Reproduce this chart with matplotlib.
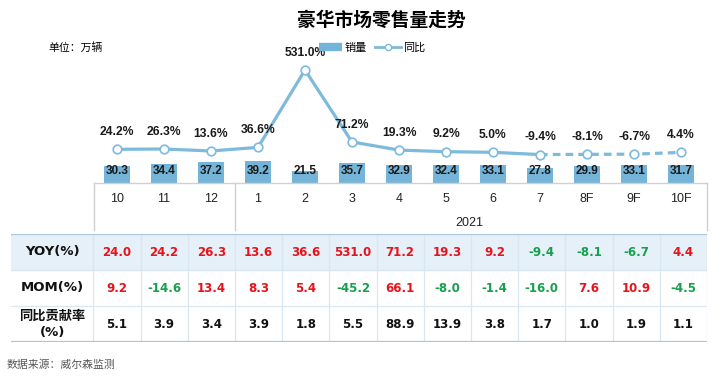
import matplotlib
matplotlib.use('Agg')
import matplotlib.pyplot as plt
from matplotlib.lines import Line2D
from matplotlib.transforms import blended_transform_factory

plt.rcParams['font.family'] = ['Liberation Sans', 'Noto Sans CJK SC', 'DejaVu Sans']

# 数据
months = ['10', '11', '12', '1', '2', '3', '4', '5', '6', '7', '8F', '9F', '10F']
sales = [30.3, 34.4, 37.2, 39.2, 21.5, 35.7, 32.9, 32.4, 33.1, 27.8, 29.9, 33.1, 31.7]
yoy_line = [24.2, 26.3, 13.6, 36.6, 531.0, 71.2, 19.3, 9.2, 5.0, -9.4, -8.1, -6.7, 4.4]
row_names = ['YOY(%)', 'MOM(%)', '同比贡献率\n(%)']
yoy_row = [24.0, 24.2, 26.3, 13.6, 36.6, 531.0, 71.2, 19.3, 9.2, -9.4, -8.1, -6.7, 4.4]
mom_row = [9.2, -14.6, 13.4, 8.3, 5.4, -45.2, 66.1, -8.0, -1.4, -16.0, 7.6, 10.9, -4.5]
contrib_row = [5.1, 3.9, 3.4, 3.9, 1.8, 5.5, 88.9, 13.9, 3.8, 1.7, 1.0, 1.9, 1.1]
n_actual = 10  # 7月之后为预测

W, H = 723, 379
bar_c = '#74B4D8'
line_c = '#7DBADB'
red = '#E8121B'
green = '#16A04C'

fig = plt.figure(figsize=(W / 100, H / 100), dpi=100)


def fx(px):
    return px / W


def fy(py):
    return 1 - py / H


x = list(range(len(months)))

# 图表区
ax = fig.add_axes([fx(93.5), fy(183), fx(704.5) - fx(93.5), fy(40) - fy(183)])
ax.set_xlim(-0.5, 12.5)
ax.set_ylim(0, 143 / 0.557)
ax.axis('off')
ax.bar(x, sales, width=0.55, color=bar_c, zorder=2)
tb = blended_transform_factory(ax.transData, ax.transAxes)
for i, v in enumerate(sales):
    ax.text(i, 0.084, f'{v:.1f}', transform=tb, ha='center', va='center',
            fontsize=8.5, fontweight='bold', color='#1a1a1a', zorder=3)
    ax.text(i, -0.112, months[i], transform=tb, ha='center', va='center',
            fontsize=9, color='#222222')
ax.text(7.5, -0.28, '2021', transform=tb, ha='center', va='center', fontsize=9, color='#222222')

ax2 = ax.twinx()
ax2.set_ylim(-29.9 / 0.1565, (143 - 29.9) / 0.1565)
ax2.axis('off')
ax2.plot(x[:n_actual], yoy_line[:n_actual], color=line_c, lw=2.3, zorder=3)
ax2.plot(x[n_actual - 1:], yoy_line[n_actual - 1:], color=line_c, lw=2.3, ls=(0, (2.4, 1.6)), zorder=3)
ax2.plot(x, yoy_line, ls='none', marker='o', ms=6.2, mfc='white', mec=line_c, mew=1.2, zorder=4)
for i, v in enumerate(yoy_line):
    ax2.annotate(f'{v:.1f}%', (i, v), xytext=(0, 12.5), textcoords='offset points',
                 ha='center', va='center', fontsize=8.7, fontweight='bold', color='#1a1a1a')

# 坐标框线
gray = '#D0D0D0'
fig.add_artist(Line2D([fx(93.5), fx(707)], [fy(183), fy(183)], color=gray, lw=1))
for px in (93.5, 234.5, 707):
    fig.add_artist(Line2D([fx(px), fx(px)], [fy(183), fy(230)], color=gray, lw=1))

# 标题、单位、图例
fig.text(fx(381), fy(20), '豪华市场零售量走势', ha='center', va='center',
         fontsize=13.5, fontweight='heavy', family=['Noto Sans CJK SC'])
fig.text(fx(48), fy(48), '单位：万辆', ha='left', va='center', fontsize=7.8,
         family=['Noto Sans CJK SC'])
fig.add_artist(Line2D([fx(319), fx(342)], [fy(47), fy(47)], color=bar_c, lw=6, solid_capstyle='butt'))
fig.text(fx(345), fy(48), '销量', ha='left', va='center', fontsize=8, family=['Noto Sans CJK SC'])
fig.add_artist(Line2D([fx(375), fx(401)], [fy(47), fy(47)], color=line_c, lw=2))
fig.add_artist(Line2D([fx(388)], [fy(47)], marker='o', ms=4.5, mfc='white', mec=line_c, mew=1))
fig.text(fx(403), fy(48), '同比', ha='left', va='center', fontsize=8, family=['Noto Sans CJK SC'])

# 表格
hdr_w = (93 - 11) / 47
tax = fig.add_axes([fx(11), fy(342), fx(707) - fx(11), fy(234) - fy(342)])
tax.set_xlim(-0.5 - hdr_w, 12.5)
tax.set_ylim(3, 0)
tax.axis('off')
tax.axhspan(0, 1, color='#E5F0F8', zorder=0)
grid_c = '#D8E7F1'
for k in range(14):
    tax.axvline(k - 0.5, color=grid_c, lw=0.9, zorder=1)
for r in (1, 2):
    tax.axhline(r, color=grid_c, lw=0.9, zorder=1)
tax.axhline(0, color='#A8C8DC', lw=1.6, zorder=2)
tax.axhline(3, color='#A8C8DC', lw=1.6, zorder=2)

hdr_x = -0.5 - hdr_w / 2
for r, name in enumerate(row_names):
    tax.text(hdr_x, r + 0.5, name, ha='center', va='center', fontsize=9.5,
             fontweight='bold', family=['DejaVu Sans', 'Noto Sans CJK SC'], color='#111111',
             linespacing=1.35)

for r, row in enumerate([yoy_row, mom_row, contrib_row]):
    for i, v in enumerate(row):
        if r == 2:
            c = '#111111'
        else:
            c = red if v >= 0 else green
        tax.text(i, r + 0.5, f'{v:.1f}', ha='center', va='center', fontsize=8.5,
                 fontweight='bold', family=['DejaVu Sans'], color=c)

fig.text(fx(7), fy(365), '数据来源：威尔森监测', ha='left', va='center', fontsize=7.8,
         color='#555555', family=['Noto Sans CJK SC'])

fig.savefig('out.png', dpi=100, facecolor='white')
